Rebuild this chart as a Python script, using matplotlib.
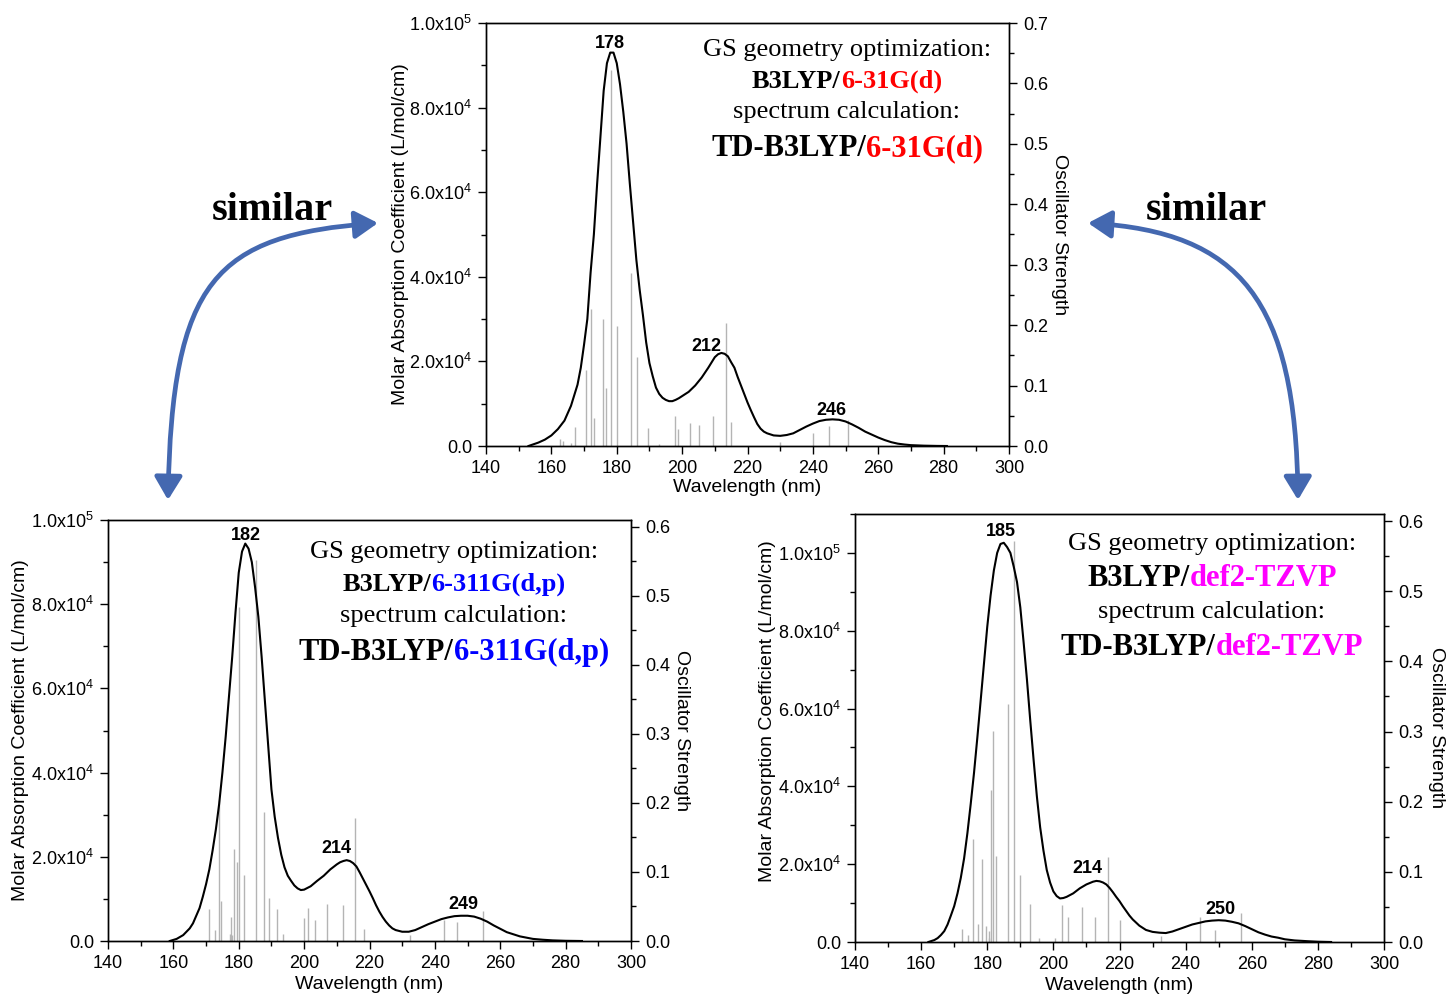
import matplotlib
matplotlib.use("Agg")
import numpy as np
import matplotlib.pyplot as plt
from matplotlib.patches import FancyArrowPatch
from matplotlib.path import Path
from matplotlib.ticker import MultipleLocator, FuncFormatter, FormatStrFormatter

W, H = 1450, 996

# ---- top panel: B3LYP/6-31G(d) ----
top_nm = [153, 156, 158, 160, 162, 164, 166, 168, 169, 170, 171, 172, 173, 174, 175,
          176, 177, 178, 179, 180, 181, 182, 183, 184, 185, 186, 187, 188, 189, 190,
          191, 192, 193, 194, 195, 196, 197, 198, 199, 200, 202, 204, 206, 208, 210,
          211, 212, 213, 214, 215, 216, 217, 218, 219, 220, 221, 222, 223, 224, 225,
          226, 228, 230, 232, 234, 236, 238, 240, 242, 244, 246, 248, 250, 252, 254,
          256, 258, 260, 262, 264, 266, 268, 270, 274, 278, 281]
top_eps_k = [0.0, 0.8, 1.5, 2.5, 4.0, 6.0, 9.5, 14.5, 18.5, 24.0, 30.0, 41.0, 50.0, 62.0, 73.0,
             84.0, 90.5, 93.0, 93.0, 90.5, 85.5, 79.0, 71.5, 62.0, 53.0, 44.0, 37.0, 31.0, 24.5, 19.6,
             16.5, 13.8, 12.3, 11.4, 10.9, 10.6, 10.6, 10.9, 11.3, 11.8, 12.8, 14.3, 16.2, 18.5, 21.0,
             21.7, 22.0, 21.8, 21.2, 19.8, 18.5, 16.3, 14.3, 12.3, 10.3, 8.5, 6.8, 5.2, 4.1, 3.4,
             3.0, 2.5, 2.4, 2.6, 3.0, 3.8, 4.6, 5.3, 5.9, 6.2, 6.3, 6.2, 5.8, 5.1, 4.3,
             3.4, 2.7, 2.0, 1.4, 0.9, 0.55, 0.35, 0.2, 0.08, 0.02, 0.0]
top_stick_nm = [162.6, 163.6, 165.9, 167.2, 170.6, 172.1, 173.1, 175.7, 176.7, 178.3, 180.2,
                184.3, 186.3, 189.6, 192.9, 197.7, 198.7, 202.3, 205.3, 209.3, 213.3, 215.1,
                229.9, 240.1, 245.0, 250.7]
top_stick_f = [0.011, 0.009, 0.005, 0.031, 0.126, 0.226, 0.046, 0.210, 0.096, 0.623, 0.199,
               0.286, 0.148, 0.029, 0.003, 0.049, 0.028, 0.038, 0.035, 0.050, 0.203, 0.040,
               0.007, 0.021, 0.033, 0.043]
top_peak_labels = ["178", "212", "246"]
top_peak_x = [177.9, 207.4, 245.6]
top_peak_y_k = [94.0, 22.4, 7.35]

# ---- bottom-left panel: B3LYP/6-311G(d,p) ----
bl_nm = [158.9, 161, 163, 165, 166, 167, 168, 169, 170, 171, 172, 173, 174, 175, 176,
         177, 178, 179, 180, 181, 182, 183, 184, 185, 186, 187, 188, 189, 190, 191,
         192, 193, 194, 195, 196, 197, 198, 199, 200, 202, 204, 206, 208, 210, 211,
         212, 213, 214, 215, 216, 217, 218, 219, 220, 221, 222, 223, 224, 225, 226,
         227, 228, 230, 232, 234, 236, 238, 240, 242, 244, 246, 248, 250, 252, 254,
         256, 258, 260, 262, 264, 266, 268, 270, 273, 276, 280, 285]
bl_eps_k = [0.0, 0.5, 1.4, 3.0, 4.2, 6.0, 7.8, 10.5, 13.5, 17.0, 21.5, 26.5, 32.5, 40.0, 48.5,
            58.0, 67.5, 78.0, 87.5, 92.5, 94.4, 93.2, 90.0, 84.0, 77.0, 67.5, 57.0, 46.5, 36.0, 29.5,
            24.5, 20.5, 17.5, 15.5, 14.3, 13.2, 12.5, 12.1, 12.2, 13.0, 14.3, 15.5, 17.0, 18.2, 18.7,
            19.0, 19.2, 19.0, 18.5, 17.7, 16.3, 14.8, 13.3, 11.8, 10.2, 8.5, 7.0, 5.7, 4.6, 3.7,
            3.0, 2.6, 2.2, 2.2, 2.6, 3.3, 4.0, 4.6, 5.2, 5.6, 5.9, 6.0, 6.0, 5.8, 5.3,
            4.6, 3.7, 2.9, 2.1, 1.6, 1.1, 0.8, 0.5, 0.3, 0.15, 0.05, 0.0]
bl_stick_nm = [170.8, 172.6, 174.0, 174.5, 177.3, 177.6, 178.0, 178.4, 179.6, 180.0, 181.5,
               185.2, 187.7, 189.2, 191.6, 193.6, 200.0, 201.1, 203.3, 206.9, 211.9, 215.6,
               218.4, 232.3, 242.8, 246.7, 254.8]
bl_stick_f = [0.047, 0.016, 0.204, 0.058, 0.010, 0.035, 0.009, 0.133, 0.115, 0.484, 0.096,
              0.552, 0.187, 0.062, 0.046, 0.010, 0.033, 0.048, 0.030, 0.054, 0.052, 0.178,
              0.017, 0.008, 0.030, 0.028, 0.043]
bl_peak_labels = ["182", "214", "249"]
bl_peak_x = [182.3, 209.9, 248.6]
bl_peak_y_k = [95.2, 20.8, 7.6]

# ---- bottom-right panel: B3LYP/def2-TZVP ----
br_nm = [162.2, 164, 165, 166, 167, 168, 169, 170, 171, 172, 173, 174, 175, 176, 177,
         178, 179, 180, 181, 182, 183, 184, 185, 186, 187, 188, 189, 190, 191, 192,
         193, 194, 195, 196, 197, 198, 199, 200, 201, 202, 203, 204, 206, 208, 210,
         212, 213, 214, 215, 216, 217, 218, 219, 220, 221, 222, 223, 224, 225, 226,
         228, 230, 232, 234, 236, 238, 240, 242, 244, 246, 248, 250, 252, 254, 256,
         258, 260, 262, 264, 266, 268, 270, 273, 277, 280, 284]
br_eps_k = [0.0, 0.5, 1.0, 1.8, 2.8, 4.5, 6.8, 9.2, 12.5, 16.5, 21.5, 28.0, 35.5, 43.5, 52.5,
            62.0, 71.5, 81.0, 89.0, 95.5, 100.0, 102.3, 102.6, 101.5, 100.0, 96.5, 92.5, 86.0, 77.0, 67.5,
            57.0, 47.0, 37.5, 29.5, 23.5, 18.5, 15.3, 13.0, 11.8, 11.2, 11.3, 11.6, 12.5, 13.8, 14.8,
            15.5, 15.7, 15.6, 15.3, 14.8, 13.9, 12.8, 11.6, 10.5, 9.2, 8.0, 6.8, 5.8, 5.0, 4.2,
            3.1, 2.6, 2.4, 2.3, 2.7, 3.3, 3.9, 4.5, 4.9, 5.3, 5.5, 5.6, 5.5, 5.2, 4.8,
            4.1, 3.3, 2.5, 1.9, 1.4, 1.1, 0.7, 0.4, 0.2, 0.08, 0.0]
br_stick_nm = [172.5, 174.3, 175.7, 177.1, 178.3, 179.7, 180.4, 180.6, 181.2, 181.7, 182.7,
               186.2, 188.0, 189.8, 193.0, 195.8, 200.6, 202.6, 204.4, 208.7, 212.7, 216.5,
               220.0, 232.7, 244.2, 249.0, 256.7]
br_stick_f = [0.018, 0.010, 0.147, 0.026, 0.119, 0.023, 0.015, 0.005, 0.216, 0.301, 0.122,
              0.339, 0.571, 0.095, 0.054, 0.005, 0.006, 0.053, 0.035, 0.050, 0.036, 0.121,
              0.031, 0.008, 0.035, 0.017, 0.041]
br_peak_labels = ["185", "214", "250"]
br_peak_x = [184.2, 210.3, 250.5]
br_peak_y_k = [104.3, 17.8, 7.2]

basis_sets = ["6-31G(d)", "6-311G(d,p)", "def2-TZVP"]
basis_colors = ["#ff0000", "#0000ff", "#ff00ff"]

SANS = "Liberation Sans"
SERIF = "Liberation Serif"
plt.rcParams["font.family"] = SANS
plt.rcParams["mathtext.fontset"] = "custom"
plt.rcParams["mathtext.rm"] = SANS
plt.rcParams["mathtext.it"] = SANS + ":italic"
plt.rcParams["mathtext.bf"] = SANS + ":bold"


def eps_fmt(v, pos):
    if v <= 0:
        return "0.0"
    exp = int(np.floor(np.log10(v) + 1e-9))
    return f"{v / 10 ** exp:.1f}x10$^{{{exp}}}$"


fig = plt.figure(figsize=(W / 100, H / 100), dpi=100)


def spectrum_panel(box, nm, eps_k, st_nm, st_f, eps_top, f_top,
                   labels, lab_x, lab_y_k, xlab_y, ylab_pos):
    l, t, r, b = box
    ax = fig.add_axes([l / W, 1 - b / H, (r - l) / W, (b - t) / H])
    ax2 = ax.twinx()
    ax2.vlines(st_nm, 0, st_f, color="#b4b4b4", lw=1.0)
    ax.plot(nm, np.asarray(eps_k) * 1e3, color="black", lw=1.5)
    ax.set_zorder(ax2.get_zorder() + 1)
    ax.patch.set_visible(False)

    ax.set_xlim(140, 300)
    ax.set_ylim(0, eps_top)
    ax2.set_ylim(0, f_top)
    ax.xaxis.set_major_locator(MultipleLocator(20))
    ax.xaxis.set_minor_locator(MultipleLocator(10))
    ax.yaxis.set_major_locator(MultipleLocator(2e4))
    ax.yaxis.set_minor_locator(MultipleLocator(1e4))
    ax.yaxis.set_major_formatter(FuncFormatter(eps_fmt))
    ax2.yaxis.set_major_locator(MultipleLocator(0.1))
    ax2.yaxis.set_minor_locator(MultipleLocator(0.05))
    ax2.yaxis.set_major_formatter(FormatStrFormatter("%.1f"))

    for a in (ax, ax2):
        a.tick_params(which="major", direction="out", length=6, width=1.0,
                      labelsize=13, pad=4)
        a.tick_params(which="minor", direction="out", length=3.5, width=1.0)
        for s in a.spines.values():
            s.set_linewidth(1.0)
    ax.tick_params(which="both", top=False, right=False)
    ax2.tick_params(which="both", left=False)

    ax.set_xlabel("Wavelength (nm)", fontsize=14, va="center")
    ax.xaxis.set_label_coords(0.5, xlab_y)
    ax.set_ylabel("Molar Absorption Coefficient (L/mol/cm)", fontsize=14,
                  ha="center", va="center")
    ax.yaxis.set_label_coords(ylab_pos[0], ylab_pos[1])
    ax2.set_ylabel("Oscillator Strength", fontsize=14, rotation=270,
                   ha="center", va="center")
    ax2.yaxis.set_label_coords(ylab_pos[2], 0.5)

    for txt, x, y in zip(labels, lab_x, lab_y_k):
        ax.text(x, y * 1e3, txt, ha="center", va="baseline",
                fontsize=13, fontweight="bold")
    return ax


spectrum_panel((486, 23, 1009, 446), top_nm, top_eps_k, top_stick_nm, top_stick_f,
               1.0e5, 0.7, top_peak_labels, top_peak_x, top_peak_y_k,
               -0.099, (-0.164, 0.5, 1.0975))
spectrum_panel((108, 520, 631, 941), bl_nm, bl_eps_k, bl_stick_nm, bl_stick_f,
               1.0e5, 0.61, bl_peak_labels, bl_peak_x, bl_peak_y_k,
               -0.1045, (-0.168, 0.5, 1.0975))
spectrum_panel((855, 514, 1384, 942), br_nm, br_eps_k, br_stick_nm, br_stick_f,
               1.1e5, 0.61, br_peak_labels, br_peak_x, br_peak_y_k,
               -0.1005, (-0.166, 0.54, 1.100))

# overlay in figure pixels for arrows and method notes
ov = fig.add_axes([0, 0, 1, 1], facecolor="none")
ov.set_xlim(0, W)
ov.set_ylim(H, 0)
ov.axis("off")

ARROW = "#4468b0"
arrow_paths = [
    [(168, 500), (172, 280), (215, 235), (378, 223)],
    [(1298, 500), (1296, 300), (1240, 232), (1088, 223)],
]
for verts in arrow_paths:
    p = Path(verts, [Path.MOVETO, Path.CURVE4, Path.CURVE4, Path.CURVE4])
    ov.add_patch(FancyArrowPatch(path=p, arrowstyle="<|-|>,head_length=0.7,head_width=0.42",
                                 mutation_scale=20, lw=3.4, color=ARROW,
                                 shrinkA=0, shrinkB=0))
for x in (272, 1206):
    ov.text(x, 220, "similar", ha="center", va="baseline", fontsize=29,
            fontweight="bold", family=SERIF)

renderer = fig.canvas.get_renderer()


def two_color_line(cx, y, first, second, color, size):
    t1 = ov.text(0, y, first, ha="left", va="baseline", fontsize=size,
                 fontweight="bold", family=SERIF, color="black")
    t2 = ov.text(0, y, second, ha="left", va="baseline", fontsize=size,
                 fontweight="bold", family=SERIF, color=color)
    w1 = t1.get_window_extent(renderer).width
    w2 = t2.get_window_extent(renderer).width
    left = cx - (w1 + w2) / 2
    t1.set_x(left)
    t2.set_x(left + w1)


def method_block(cx, baselines, basis, color, mid_size):
    ov.text(cx, baselines[0], "GS geometry optimization:", ha="center", va="baseline",
            fontsize=19, family=SERIF)
    two_color_line(cx, baselines[1], "B3LYP/", basis, color, mid_size)
    ov.text(cx, baselines[2], "spectrum calculation:", ha="center", va="baseline",
            fontsize=19, family=SERIF)
    two_color_line(cx, baselines[3], "TD-B3LYP/", basis, color, 22)


method_block(847, (56, 88, 118, 156), basis_sets[0], basis_colors[0], 19)
method_block(454, (558, 591, 622, 660), basis_sets[1], basis_colors[1], 19)
method_block(1212, (550, 586, 618, 655), basis_sets[2], basis_colors[2], 22)

fig.savefig("out.png", dpi=100)
